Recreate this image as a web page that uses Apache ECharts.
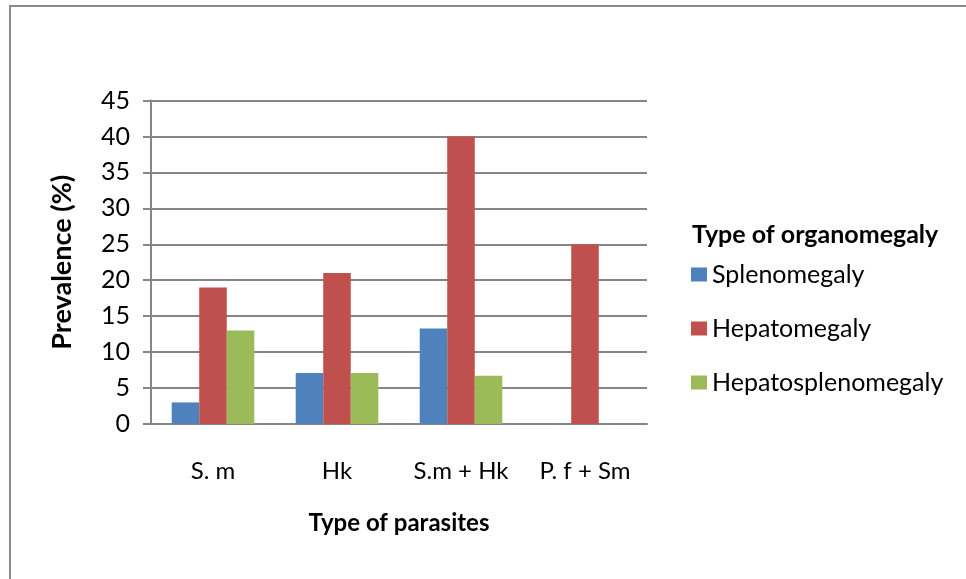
<!DOCTYPE html>
<html>
<head>
<meta charset="utf-8">
<style>
  html, body { margin: 0; padding: 0; background: #fff; }
  #chart { width: 966px; height: 579px; }
</style>
<script src="https://cdn.jsdelivr.net/npm/echarts@6/dist/echarts.min.js"></script>
</head>
<body>
<div id="chart"></div>
<script>
// Prevalence of organomegaly by type of parasite infection
const categories = ['S. m', 'Hk', 'S.m + Hk', 'P. f + Sm'];
const seriesNames = ['Splenomegaly', 'Hepatomegaly', 'Hepatosplenomegaly'];
const splenomegaly = [3, 7.1, 13.3, 0];
const hepatomegaly = [19, 21, 40, 25];
const hepatosplenomegaly = [13, 7.1, 6.7, 0];
const seriesValues = [splenomegaly, hepatomegaly, hepatosplenomegaly];
const seriesColors = ['#4F81BD', '#C0504D', '#9BBB59'];

const FONT = 'Lato';
const chart = echarts.init(document.getElementById('chart'), null, { renderer: 'canvas' });

chart.setOption({
  animation: false,
  backgroundColor: '#ffffff',
  textStyle: { fontFamily: FONT, color: '#000' },
  graphic: [{
    type: 'rect',
    shape: { x: 10, y: 6, width: 980, height: 600 },
    style: { fill: 'none', stroke: '#8a8a8a', lineWidth: 2 },
    silent: true
  }],
  title: [{
    text: 'Type of organomegaly',
    left: 687, top: 217,
    textStyle: { fontFamily: FONT, fontSize: 25, fontWeight: 'bold', color: '#000' }
  }],
  legend: {
    data: seriesNames,
    orient: 'vertical',
    left: 686, top: 257,
    icon: 'rect',
    itemWidth: 16, itemHeight: 14,
    itemGap: 29,
    textStyle: { fontFamily: FONT, fontSize: 25, color: '#000' }
  },
  grid: { left: 151, right: 319, top: 100.5, bottom: 155, containLabel: false },
  xAxis: {
    type: 'category',
    data: categories,
    name: 'Type of parasites',
    nameLocation: 'middle',
    nameGap: 87,
    nameTextStyle: { fontFamily: FONT, fontSize: 24, fontWeight: 'bold', color: '#000' },
    axisLine: { show: true, lineStyle: { color: '#868686', width: 2 } },
    axisTick: { show: false },
    axisLabel: { margin: 35, fontFamily: FONT, fontSize: 24, color: '#000' }
  },
  yAxis: {
    type: 'value',
    min: 0, max: 45, interval: 5,
    name: 'Prevalence (%)',
    nameLocation: 'middle',
    nameGap: 75,
    nameRotate: 90,
    nameTextStyle: { fontFamily: FONT, fontSize: 27, fontWeight: 'bold', color: '#000' },
    axisLine: { show: true, lineStyle: { color: '#868686', width: 2 } },
    axisTick: { show: true, length: 8, lineStyle: { color: '#868686', width: 2 } },
    axisLabel: { margin: 21, fontFamily: FONT, fontSize: 25, color: '#000' },
    splitLine: { show: true, lineStyle: { color: '#868686', width: 2 } }
  },
  series: seriesNames.map((name, i) => ({
    name: name,
    type: 'bar',
    data: seriesValues[i],
    barGap: '0%',
    barCategoryGap: '33.4%',
    itemStyle: { color: seriesColors[i] }
  }))
});
</script>
</body>
</html>
